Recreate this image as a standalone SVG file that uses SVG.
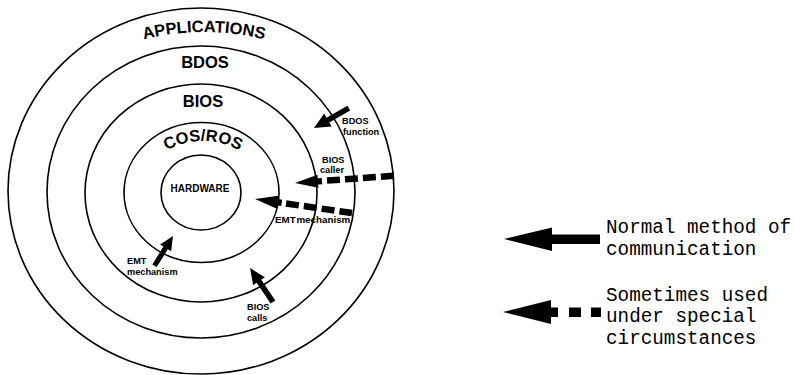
<svg xmlns="http://www.w3.org/2000/svg" width="794" height="375" viewBox="0 0 794 375">
<style>
.ring{fill:none;stroke:#000;stroke-width:1.6}
.lbl{font-family:"Liberation Sans",Arial,sans-serif;font-weight:bold;fill:#000}
.big{font-size:16.5px}
.sm{font-size:9.2px}
.leg{font-family:"Liberation Mono","Courier New",monospace;font-size:19.3px;fill:#000}
.ah{fill:#000;stroke:none}
.dash{stroke:#000;stroke-width:6.5;fill:none;stroke-dasharray:13 5}
</style>
<defs>
<path id="arcApp" d="M 104,52.9 A 250 250 0 0 1 304,52.9"/>
<path id="arcCos" d="M 128,216 A 75 75 0 0 1 278,216"/>
</defs>
<rect width="794" height="375" fill="#fff"/>
<g id="ring-applications">
<ellipse class="ring" cx="201" cy="191" rx="193" ry="183"/>
<text class="lbl big" text-anchor="middle"><textPath href="#arcApp" startOffset="50%">APPLICATIONS</textPath></text>
</g>
<g id="ring-bdos">
<ellipse class="ring" cx="201" cy="192" rx="154" ry="146"/>
<text class="lbl big" x="205" y="68" text-anchor="middle">BDOS</text>
</g>
<g id="ring-bios">
<ellipse class="ring" cx="201" cy="193" rx="116" ry="109"/>
<text class="lbl big" x="203" y="107" text-anchor="middle">BIOS</text>
</g>
<g id="ring-cosros">
<ellipse class="ring" cx="201.5" cy="192.5" rx="77.5" ry="70"/>
<text class="lbl big" text-anchor="middle"><textPath href="#arcCos" startOffset="50%">COS/ROS</textPath></text>
</g>
<g id="hardware">
<ellipse class="ring" cx="201" cy="192.5" rx="40" ry="37.5"/>
<text class="lbl" x="200" y="192" font-size="10" text-anchor="middle">HARDWARE</text>
</g>
<g id="connectors">
<g id="arrow-bdos-function">
<polygon class="ah" transform="translate(314,128) rotate(-29.7)" points="0,0 16,-7.5 16,-2.8 40,-2.8 40,2.8 16,2.8 16,7.5"/>
<text class="lbl sm" x="342" y="124">BDOS</text>
<text class="lbl sm" x="343" y="134.5">function</text>
</g>
<g id="arrow-bios-caller">
<polygon class="ah" transform="translate(295,183) rotate(-4.1)" points="0,0 23,-6.5 23,-3.2 27,-3.2 27,3.2 23,3.2 23,6.5"/>
<line class="dash" x1="327" y1="180.6" x2="394" y2="175.8" stroke-dasharray="14 5"/>
<text class="lbl sm" x="322" y="162.5">BIOS</text>
<text class="lbl sm" x="320" y="173">caller</text>
</g>
<g id="arrow-emt-dashed">
<polygon class="ah" transform="translate(255,199) rotate(8.2)" points="0,0 23,-6.5 23,-3.2 27,-3.2 27,3.2 23,3.2 23,6.5"/>
<line class="dash" x1="286" y1="203.5" x2="352" y2="213" stroke-dasharray="13 5"/>
<text class="lbl" x="275" y="223" font-size="9.8" word-spacing="-2">EMT mechanism</text>
</g>
<g id="arrow-emt-lower">
<polygon class="ah" transform="translate(173,236) rotate(121.8)" points="0,0 14,-6.5 14,-2.6 35,-2.6 35,2.6 14,2.6 14,6.5"/>
<text class="lbl sm" x="127" y="264">EMT</text>
<text class="lbl sm" x="127" y="274.5">mechanism</text>
</g>
<g id="arrow-bios-calls">
<polygon class="ah" transform="translate(250,268) rotate(55.9)" points="0,0 16,-7 16,-2.8 41,-2.8 41,2.8 16,2.8 16,7"/>
<text class="lbl sm" x="247" y="310">BIOS</text>
<text class="lbl sm" x="247" y="320.5">calls</text>
</g>
</g>
<g id="legend">
<g id="legend-normal">
<polygon class="ah" points="504,239 552,227.5 552,234.5 600,234.5 600,244 552,244 552,251"/>
<text class="leg" x="606" y="233">Normal method of</text>
<text class="leg" x="606" y="255">communication</text>
</g>
<g id="legend-special">
<polygon class="ah" points="503,312 551,300 551,307.5 558,307.5 558,317 551,317 551,324"/>
<rect class="ah" x="569" y="307.5" width="12" height="9.5"/>
<rect class="ah" x="591" y="307.5" width="10" height="9.5"/>
<text class="leg" x="606" y="301">Sometimes used</text>
<text class="leg" x="606" y="322">under special</text>
<text class="leg" x="606" y="344">circumstances</text>
</g>
</g>
</svg>
